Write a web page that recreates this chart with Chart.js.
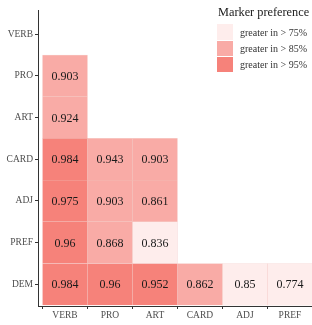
<!DOCTYPE html>
<html lang="en">
<head>
<meta charset="UTF-8">
<title>Marker preference</title>
<script src="https://cdn.jsdelivr.net/npm/chart.js"></script>
<style>
  body { margin: 0; background: #fff; }
  #wrap { position: relative; width: 312px; height: 325px; }
  #legend { position: absolute; left: 217px; top: 3px; font-family: "Liberation Serif", serif; color: #1a1a1a; white-space: nowrap; }
  #legend .title { font-size: 12.3px; margin-left: 1px; height: 21px; line-height: 18px; }
  #legend .item { display: flex; align-items: center; height: 16.3px; }
  #legend .swatch { width: 16px; height: 15.5px; margin-right: 7px; }
  #legend .label { font-size: 10px; color: #333; }
</style>
</head>
<body>
<div id="wrap">
  <canvas id="heatChart" width="312" height="325"></canvas>
  <div id="legend"></div>
</div>
<script>
const xCats = ["VERB", "PRO", "ART", "CARD", "ADJ", "PREF"];
const yCats = ["VERB", "PRO", "ART", "CARD", "ADJ", "PREF", "DEM"];

// one array per row (top to bottom), null = no cell
const rowVERB = [null, null, null, null, null, null];
const rowPRO  = [0.903, null, null, null, null, null];
const rowART  = [0.924, null, null, null, null, null];
const rowCARD = [0.984, 0.943, 0.903, null, null, null];
const rowADJ  = [0.975, 0.903, 0.861, null, null, null];
const rowPREF = [0.96, 0.868, 0.836, null, null, null];
const rowDEM  = [0.984, 0.96, 0.952, 0.862, 0.85, 0.774];
const rows = [rowVERB, rowPRO, rowART, rowCARD, rowADJ, rowPREF, rowDEM];

const thresholds = [0.75, 0.85, 0.95];
const legendLabels = ["greater in > 75%", "greater in > 85%", "greater in > 95%"];
const shades = ["rgb(254,237,236)", "rgb(249,171,166)", "rgb(246,130,122)"];

function shadeFor(v) {
    let idx = 0;
    thresholds.forEach((t, i) => { if (v > t) idx = i; });
    return shades[idx];
}

// build one floating-bar dataset per row
const datasets = rows.map((row, r) => {
    const yPos = yCats.length - 1 - r;
    const data = [];
    row.forEach((v, j) => {
        if (v !== null) data.push({ x: j, y: [yPos - 0.5, yPos + 0.5], v: v });
    });
    return {
        label: yCats[r],
        data: data,
        grouped: false,
        barPercentage: 1,
        categoryPercentage: 1,
        backgroundColor: ctx => ctx.raw ? shadeFor(ctx.raw.v) : "transparent",
        borderColor: "rgba(225,110,100,0.25)",
        borderWidth: 0.5,
        borderSkipped: false
    };
});

// print values in the middle of each cell
const cellText = {
    id: "cellText",
    afterDatasetsDraw(chart) {
        const ctx = chart.ctx;
        ctx.save();
        ctx.font = "12px 'Liberation Serif', serif";
        ctx.fillStyle = "#1a1a1a";
        ctx.textAlign = "center";
        ctx.textBaseline = "middle";
        chart.data.datasets.forEach((ds, i) => {
            chart.getDatasetMeta(i).data.forEach((bar, k) => {
                const v = ds.data[k].v;
                ctx.fillText(String(v), bar.x, (bar.y + bar.base) / 2 + 1);
            });
        });
        ctx.restore();
    }
};

const tickFont = { family: "'Liberation Serif', serif", size: 9.5 };

new Chart(document.getElementById("heatChart"), {
    type: "bar",
    data: { datasets: datasets },
    options: {
        responsive: false,
        animation: false,
        layout: { padding: { top: 10, left: 0, right: 0, bottom: 0 } },
        plugins: { legend: { display: false }, tooltip: { enabled: false } },
        scales: {
            x: {
                type: "linear",
                offset: false,
                min: -0.6,
                max: 5.49,
                afterBuildTicks: scale => { scale.ticks = xCats.map((c, i) => ({ value: i })); },
                afterFit: scale => {
                    scale.height = 19;
                    scale.paddingLeft = 0;
                    scale.paddingRight = 0;
                },
                ticks: {
                    callback: v => xCats[v],
                    font: tickFont,
                    color: "#4d4d4d",
                    padding: 1,
                    maxRotation: 0,
                    autoSkip: false
                },
                grid: { drawOnChartArea: false, tickLength: 3, color: "#333", lineWidth: 1 },
                border: { color: "#333", width: 1 }
            },
            y: {
                type: "linear",
                min: -0.52,
                max: 6.58,
                afterBuildTicks: scale => { scale.ticks = yCats.map((c, i) => ({ value: yCats.length - 1 - i })); },
                afterFit: scale => {
                    scale.width = 38;
                    scale.paddingTop = 0;
                    scale.paddingBottom = 0;
                },
                ticks: {
                    callback: v => yCats[yCats.length - 1 - v],
                    font: tickFont,
                    color: "#4d4d4d",
                    padding: 2,
                    autoSkip: false
                },
                grid: { drawOnChartArea: false, tickLength: 3, color: "#333", lineWidth: 1 },
                border: { color: "#333", width: 1 }
            }
        }
    },
    plugins: [cellText]
});

// legend
const legend = document.getElementById("legend");
let html = '<div class="title">Marker preference</div>';
legendLabels.forEach((lab, i) => {
    html += '<div class="item"><div class="swatch" style="background:' + shades[i] + '"></div><span class="label">' + lab + '</span></div>';
});
legend.innerHTML = html;
</script>
</body>
</html>
